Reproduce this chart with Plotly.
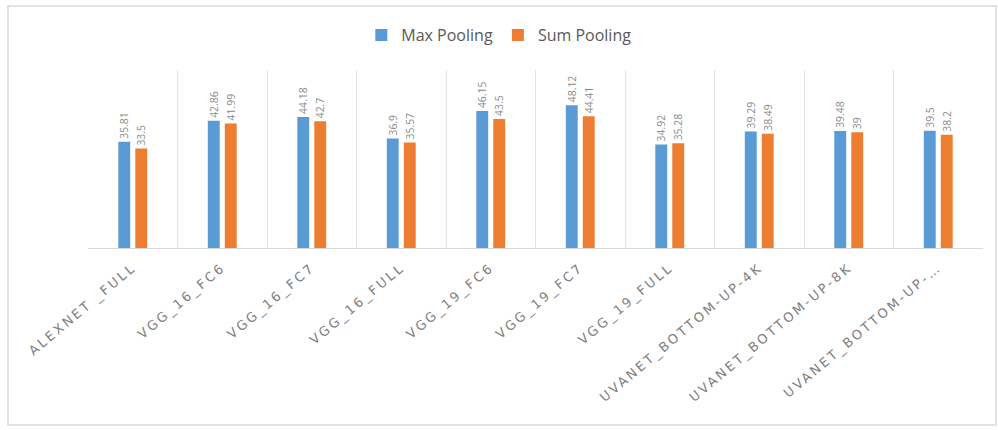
import plotly.graph_objects as go

categories = ["ALEXNET _FULL", "VGG_16_FC6", "VGG_16_FC7", "VGG_16_FULL", "VGG_19_FC6",
              "VGG_19_FC7", "VGG_19_FULL", "UVANET_BOTTOM-UP-4K", "UVANET_BOTTOM-UP-8K",
              "UVANET_BOTTOM-UP-…"]
max_pooling = [35.81, 42.86, 44.18, 36.9, 46.15, 48.12, 34.92, 39.29, 39.48, 39.5]
sum_pooling = [33.5, 41.99, 42.7, 35.57, 43.5, 44.41, 35.28, 38.49, 39, 38.2]

label_font = dict(family="Open Sans, sans-serif", size=13, color="#8a8a8a")

fig = go.Figure()
fig.add_trace(go.Bar(name="Max Pooling", x=categories, y=max_pooling,
                     marker=dict(color="#5B9BD5", line=dict(width=0)),
                     text=[str(v) for v in max_pooling], textposition="outside",
                     textangle=-90, textfont=label_font, cliponaxis=False))
fig.add_trace(go.Bar(name="Sum Pooling", x=categories, y=sum_pooling,
                     marker=dict(color="#ED7D31", line=dict(width=0)),
                     text=[str(v) for v in sum_pooling], textposition="outside",
                     textangle=-90, textfont=label_font, cliponaxis=False))

pw = 983 - 88
ph = 248 - 70
fig.update_layout(
    width=998, height=430,
    margin=dict(l=88, r=15, t=70, b=182),
    paper_bgcolor="white", plot_bgcolor="white",
    barmode="group", bargap=0.62, bargroupgap=0.3,
    font=dict(family="Open Sans, sans-serif", color="#595959"),
    legend=dict(orientation="h", x=0.459, xanchor="center", y=1.0 + (70 - 35) / ph,
                yanchor="middle", font=dict(size=16, color="#595959"),
                itemwidth=30, traceorder="normal"),
    xaxis=dict(type="category", tickson="boundaries", showgrid=True,
               gridcolor="#e3e3e3", gridwidth=1, ticks="", tickangle=-40,
               tickfont=dict(family="DejaVu Sans", size=13, color="#808080"),
               ticklabelstandoff=6,
               showline=True, linecolor="#d9d9d9", linewidth=1, mirror=False,
               automargin=False),
    yaxis=dict(range=[0, 60], showgrid=False, showticklabels=False, zeroline=False,
               showline=False, automargin=False),
    uniformtext=dict(minsize=8, mode="show"),
    shapes=[dict(type="rect", xref="paper", yref="paper",
                 x0=(8 - 88) / pw, x1=(996 - 88) / pw,
                 y0=(248 - 425) / ph, y1=(248 - 6) / ph,
                 line=dict(color="#d9d9d9", width=1.5), fillcolor="rgba(0,0,0,0)",
                 layer="below")],
)

post = """
document.querySelectorAll('.xtick text').forEach(function(t){
  t.style.letterSpacing = '2.6px';
});
"""
fig.write_html("out.html", post_script=post)
